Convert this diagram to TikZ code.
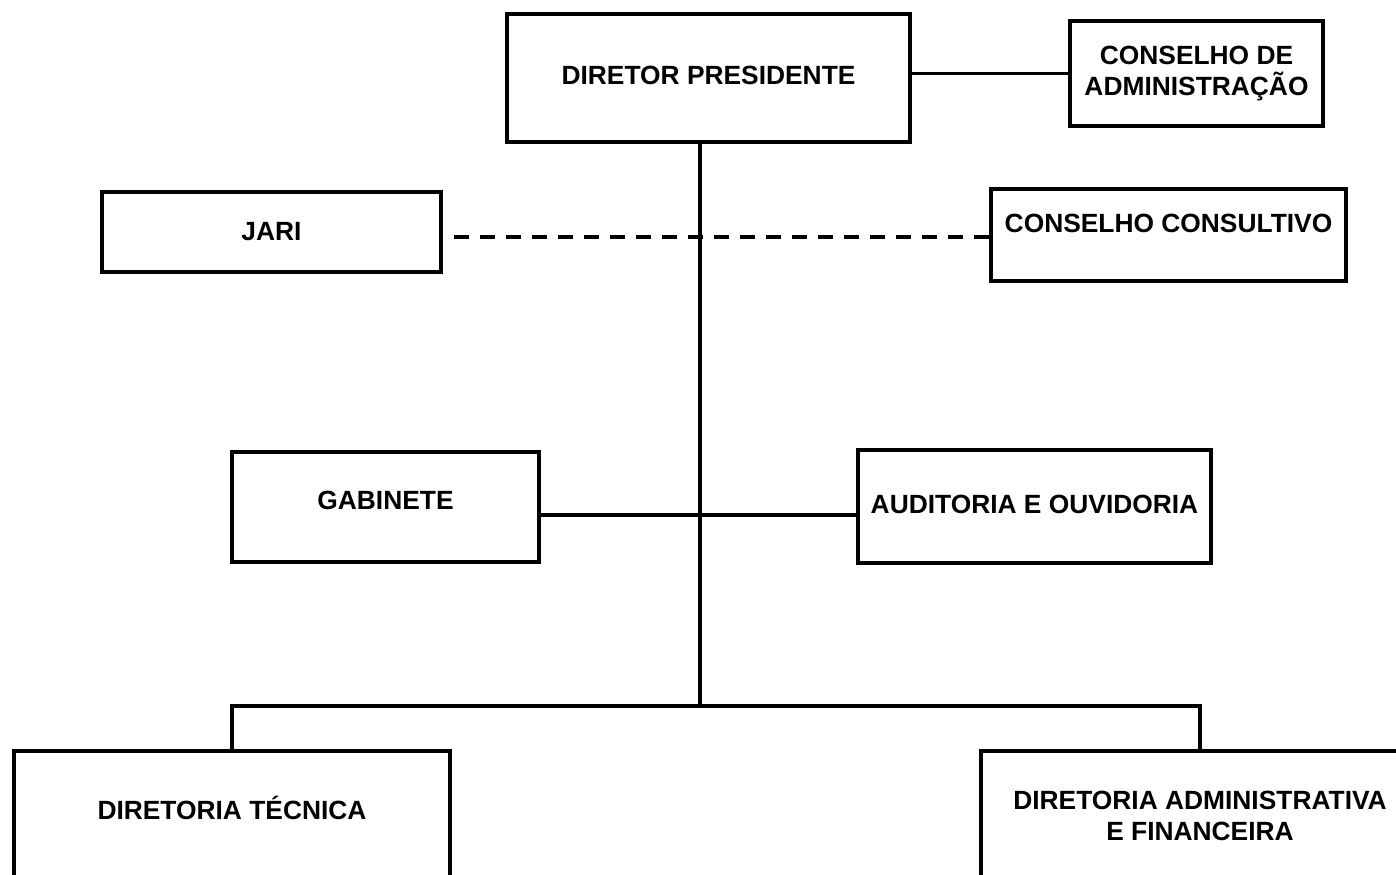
\documentclass[tikz,border=0pt]{standalone}
\usepackage{fontspec}
\setmainfont{Liberation Sans}
\usetikzlibrary{positioning,calc}
\tikzset{
  every picture/.append style={line width=1.8pt},
  every node/.append style={font=\fontsize{15}{17.5}\selectfont\bfseries},
}
\tikzset{
  orgbox/.style={draw, line width=2pt, align=center, inner sep=2pt},
  link/.style={draw, line width=1.8pt},
  dashlink/.style={draw, line width=1.9pt, dash pattern=on 0.3cm off 0.22cm, dash phase=0.3cm}
}

\begin{document}
\begin{tikzpicture}

% --- Page frame ---
\useasboundingbox (0,0) rectangle (27.92,-17.48);
\clip (0,0) rectangle (27.92,-17.48);

% --- Top level ---
\node[orgbox, minimum width=8.06cm, minimum height=2.56cm, text depth=0.12cm]
  (presidente) at (14.17,-1.56) {DIRETOR PRESIDENTE};
\node[orgbox, minimum width=5.06cm, minimum height=2.1cm]
  (consadm) at (23.93,-1.47) {CONSELHO DE\\ADMINISTRAÇÃO};

% --- Advisory boxes ---
\node[orgbox, minimum width=6.78cm, minimum height=1.6cm]
  (jari) at (5.43,-4.64) {JARI};
\node[orgbox, minimum width=7.1cm, minimum height=1.84cm, text depth=0.45cm]
  (conscons) at (23.37,-4.7) {CONSELHO CONSULTIVO};

% --- Staff boxes ---
\node[orgbox, minimum width=6.14cm, minimum height=2.2cm, text depth=0.28cm]
  (gabinete) at (7.71,-10.14) {GABINETE};
\node[orgbox, minimum width=7.06cm, minimum height=2.26cm, text depth=0.1cm]
  (auditoria) at (20.69,-10.13) {AUDITORIA E OUVIDORIA};

% --- Directorates (cut by the page edge) ---
\node[orgbox, minimum width=8.72cm, minimum height=2.6cm, anchor=north, text depth=0.32cm]
  (dirtec) at (4.64,-14.98) {DIRETORIA TÉCNICA};
\node[orgbox, minimum width=8.76cm, minimum height=2.6cm, anchor=north]
  (diradm) at (24.0,-14.98) {DIRETORIA ADMINISTRATIVA\\E FINANCEIRA};

% --- Junction points on the trunk ---
\coordinate (dashy) at (14,-4.74);
\coordinate (midjoin) at (14,-10.3);
\coordinate (bus) at (14,-14.12);

% --- Connectors ---
\draw[link] (presidente.east |- consadm.west) -- (consadm.west);
\draw[link] (bus |- presidente.south) -- (bus);
\draw[dashlink] (jari.east |- dashy) -- (conscons.west |- dashy);
\draw[link] (gabinete.east |- midjoin) -- (auditoria.west |- midjoin);
\draw[link] (dirtec.north) |- (bus) -| (diradm.north);

\end{tikzpicture}
\end{document}
